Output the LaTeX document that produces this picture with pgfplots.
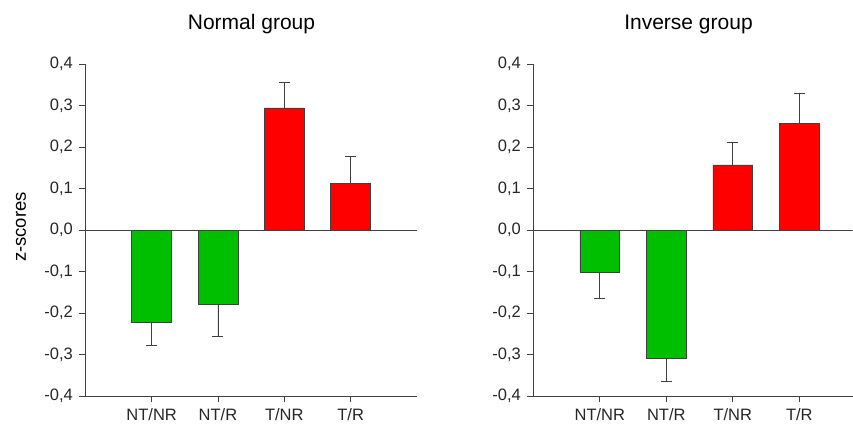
\documentclass[border=0pt]{standalone}
\usepackage{fontspec}
\setmainfont{Liberation Sans}
\usepackage{pgfplots}
\pgfplotsset{compat=1.18}
\definecolor{axgray}{HTML}{404040}
\definecolor{bargreen}{HTML}{00BE00}
\definecolor{barred}{HTML}{FF0000}
\pgfplotsset{
  zpanel/.style={
    scale only axis,
    width=#1,
    height=332pt,
    anchor=south west,
    ymin=-0.4, ymax=0.4,
    xmin=-1,
    ytick={-0.4,-0.3,-0.2,-0.1,0,0.1,0.2,0.3,0.4},
    xtick={0,1,2,3},
    xticklabels={NT/NR,NT/R,T/NR,T/R},
    axis x line=bottom,
    axis y line=left,
    axis line style={-, axgray, line width=0.8pt},
    tick style={axgray, line width=0.8pt},
    tick align=outside,
    major tick length=6pt,
    ticklabel style={font=\fontsize{16.5}{19}\selectfont, text=black!85},
    xticklabel style={yshift=-3pt},
    yticklabel style={xshift=-3pt},
    yticklabel style={/pgf/number format/.cd, use comma, fixed, fixed zerofill, precision=1, assume math mode=true},
  },
  zbar/.style={
    ybar, bar width=0.6, bar shift=0pt,
    draw=axgray, line width=0.6pt,
    error bars/y explicit, error bars/y dir=#1,
    error bars/error bar style={axgray, line width=0.9pt},
    error bars/error mark options={rotate=90, mark size=5.5pt, axgray, line width=0.9pt},
  },
}
\begin{document}
\begin{tikzpicture}[x=1pt,y=1pt]
\path[use as bounding box] (0,0) rectangle (853,426);
% Left panel: Normal group
\begin{axis}[zpanel=331.7pt, xmax=4, at={(85.3pt,30pt)}]
\draw[axgray, line width=0.8pt] (axis cs:-1,0) -- (axis cs:4,0);
\addplot[zbar=minus, fill=bargreen] coordinates {
  (0,-0.223) -= (0,0.054)
  (1,-0.180) -= (0,0.077)
};
\addplot[zbar=plus, fill=barred] coordinates {
  (2,0.294) += (0,0.062)
  (3,0.113) += (0,0.064)
};
\end{axis}
% Right panel: Inverse group
\begin{axis}[zpanel=319.2pt, xmax=3.8, at={(533.3pt,30pt)}]
\draw[axgray, line width=0.8pt] (axis cs:-1,0) -- (axis cs:3.8,0);
\addplot[zbar=minus, fill=bargreen] coordinates {
  (0,-0.101) -= (0,0.065)
  (1,-0.308) -= (0,0.057)
};
\addplot[zbar=plus, fill=barred] coordinates {
  (2,0.157) += (0,0.053)
  (3,0.257) += (0,0.071)
};
\end{axis}
\node[anchor=base, font=\fontsize{21}{25}\selectfont] at (251.5,396.7) {Normal group};
\node[anchor=base, font=\fontsize{21}{25}\selectfont] at (688.5,396.7) {Inverse group};
\node[rotate=90, font=\fontsize{18.5}{22}\selectfont] at (21,199) {z-scores};
\end{tikzpicture}
\end{document}
